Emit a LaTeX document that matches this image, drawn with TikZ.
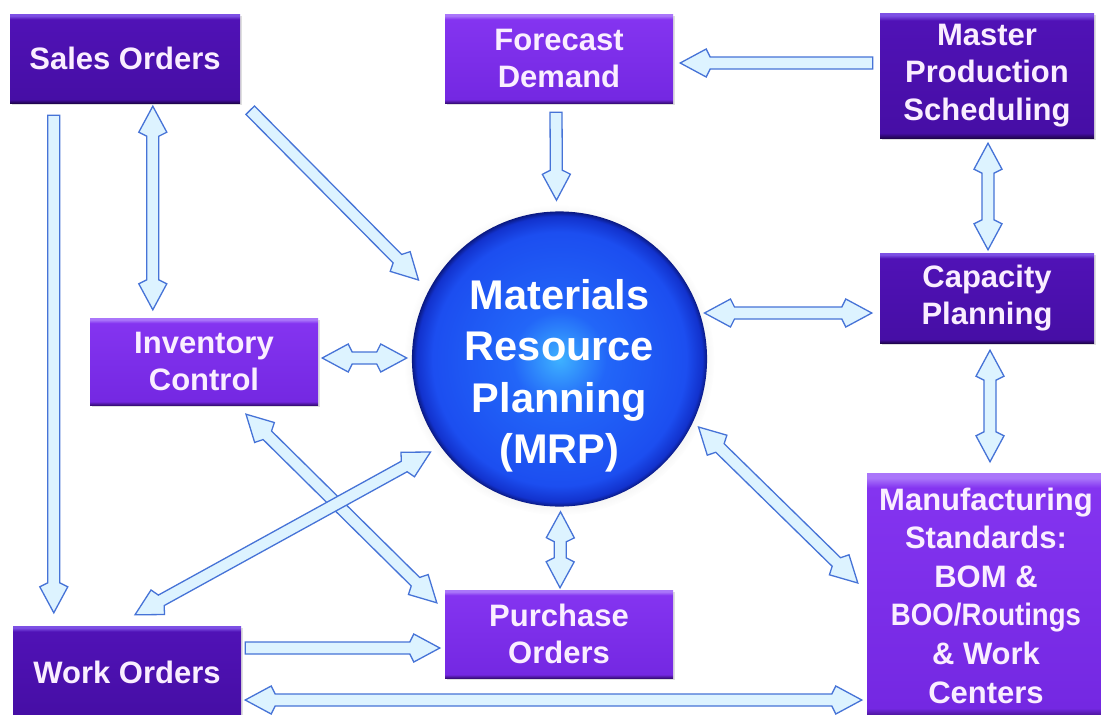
\documentclass[tikz,border=0pt]{standalone}
\usepackage{fontspec}
\setmainfont{Liberation Sans}
\usetikzlibrary{calc,shadows,positioning}

\definecolor{arrowfill}{RGB}{221,243,255}
\definecolor{arrowedge}{RGB}{70,115,215}
\definecolor{boxtext}{RGB}{250,238,255}
\definecolor{dktop}{RGB}{125,80,228}
\definecolor{dkmain}{RGB}{80,18,182}
\definecolor{dklow}{RGB}{70,14,165}
\definecolor{dkedge}{RGB}{32,4,80}
\definecolor{lttop}{RGB}{170,118,250}
\definecolor{ltmain}{RGB}{132,52,240}
\definecolor{ltlow}{RGB}{116,40,226}
\definecolor{ltedge}{RGB}{58,14,125}
\definecolor{ballcore}{RGB}{62,178,255}
\definecolor{ballmid}{RGB}{34,102,248}
\definecolor{ballouter}{RGB}{28,78,240}
\definecolor{balledge}{RGB}{18,50,205}
\definecolor{ballrim}{RGB}{10,25,130}

\pgfdeclareverticalshading{darkshade}{100bp}{color(0bp)=(dkedge); color(25bp)=(dkedge); color(27bp)=(dklow); color(72bp)=(dkmain); color(74bp)=(dktop); color(100bp)=(dktop)}
\pgfdeclareverticalshading{lightshade}{100bp}{color(0bp)=(ltedge); color(25bp)=(ltedge); color(27bp)=(ltlow); color(72bp)=(ltmain); color(74bp)=(lttop); color(100bp)=(lttop)}
\pgfdeclareradialshading{ballshade}{\pgfpoint{0bp}{0bp}}{color(0bp)=(ballcore); color(8bp)=(ballmid); color(21.5bp)=(ballouter); color(24.2bp)=(balledge); color(25bp)=(ballrim); color(50bp)=(ballrim)}

\tikzset{
  flowline/.style={draw=arrowedge, fill=arrowfill, line width=1.3pt, line join=miter},
  pics/oneway/.style={code={
    \draw[flowline] (0,6) -- ({#1-30},6) -- ({#1-26},14) -- (#1,0) -- ({#1-26},-14) -- ({#1-30},-6) -- (0,-6) -- cycle;
  }},
  pics/twoway/.style={code={
    \draw[flowline] (0,0) -- (26,14) -- (30,6) -- ({#1-30},6) -- ({#1-26},14) -- (#1,0)
      -- ({#1-26},-14) -- ({#1-30},-6) -- (30,-6) -- (26,-14) -- cycle;
  }},
  box/.style={rectangle, inner sep=0pt, align=center, text=boxtext,
    font=\bfseries\fontsize{31}{37}\selectfont,
    drop shadow={shadow xshift=1.5pt, shadow yshift=-2pt, opacity=0.25}},
  darkbox/.style={box, shading=darkshade},
  lightbox/.style={box, shading=lightshade},
}

% #1 = oneway/twoway, #2 = from, #3 = to
\newcommand\flow[3]{%
  \path let \p1=#2, \p2=#3, \n1={atan2(\y2-\y1,\x2-\x1)}, \n2={veclen(\x2-\x1,\y2-\y1)}
    in pic[rotate=\n1] at (\p1) {#1=\n2};
}

\begin{document}
\begin{tikzpicture}[x=1pt, y=-1pt]
\fill[white] (0,0) rectangle (1101,715);
\useasboundingbox (0,0) rectangle (1101,715);

\node[darkbox, minimum width=230pt, minimum height=89pt] (so) at (125,58.5) {Sales Orders};
\node[lightbox, minimum width=228pt, minimum height=89pt] (fd) at (559,58.5) {Forecast\\Demand};
\node[darkbox, minimum width=214pt, minimum height=125pt, font=\bfseries\fontsize{31}{37.5}\selectfont] (mps) at (987,75.5) {Master\\Production\\Scheduling};
\node[darkbox, minimum width=214pt, minimum height=90pt] (cp) at (987,298) {Capacity\\Planning};
\node[lightbox, minimum width=228pt, minimum height=87pt] (ic) at (204,361.5) {Inventory\\Control};
\node[lightbox, minimum width=228pt, minimum height=88pt] (po) at (559,634) {Purchase\\Orders};
\node[darkbox, minimum width=228pt, minimum height=92pt] (wo) at (127,672) {Work Orders};
\node[lightbox, minimum width=238pt, minimum height=245pt, font=\bfseries\fontsize{31}{38.6}\selectfont] (ms) at (986,595.5)
  {Manufacturing\\Standards:\\BOM \&\\\scalebox{0.89}[1]{BOO/Routings}\\\& Work\\Centers};

\node[circle, minimum size=293pt, inner sep=0pt, shading=ballshade, text=white, align=center,
  font=\bfseries\fontsize{41.5}{51.5}\selectfont,
  circular drop shadow={shadow xshift=0pt, shadow yshift=-1pt, shadow scale=1.05, opacity=0.18}]
  (mrp) at (559.5,359) {\rule{0pt}{64pt}Materials\\Resource\\Planning\\(MRP)};

\flow{oneway}{($(so.south west)+(44,12)$)}{($(wo.north west)+(41,-13)$)}
\flow{twoway}{($(so.south west)+(143,3)$)}{($(ic.north west)+(63,-8)$)}
\flow{oneway}{($(so.south east)+(10,7)$)}{($(mrp.center)+(-141,-79)$)}
\flow{oneway}{($(fd.south)+(-3,9)$)}{($(mrp.north)+(-3,-11)$)}
\flow{oneway}{($(mps.west)+(-7,-12.5)$)}{($(fd.east)+(7,4.5)$)}
\flow{twoway}{($(mps.south)+(1,5)$)}{($(cp.north)+(1,-3)$)}
\flow{twoway}{($(cp.west)+(-8,15)$)}{($(mrp.center)+(145,-46)$)}
\flow{twoway}{($(cp.south)+(3,7)$)}{($(ms.north)+(4,-11)$)}
\flow{twoway}{($(ic.east)+(4,-3.5)$)}{($(mrp.west)+(-5,-1)$)}
\flow{twoway}{($(ic.south)+(42,9)$)}{($(po.north west)+(-8,13)$)}
\flow{twoway}{($(wo.north)+(8,-11)$)}{($(mrp.center)+(-129,93)$)}
\flow{twoway}{($(mrp.center)+(139,68)$)}{($(ms.west)+(-9,-12.5)$)}
\flow{twoway}{($(mrp.south)+(1,5)$)}{($(po.north)+(1,-2)$)}
\flow{oneway}{($(wo.east)+(4,-24)$)}{($(po.west)+(-5,14)$)}
\flow{twoway}{($(wo.east)+(4,28)$)}{($(ms.west)+(-5,104.5)$)}
\end{tikzpicture}
\end{document}
